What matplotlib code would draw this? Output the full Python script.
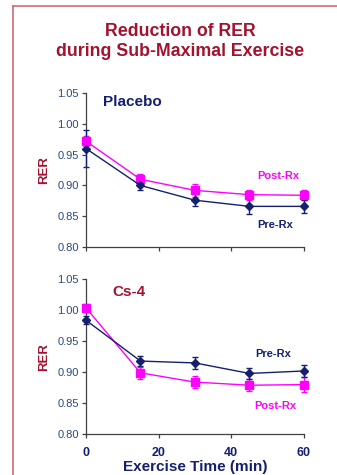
import matplotlib
matplotlib.use("Agg")
import matplotlib.pyplot as plt
from matplotlib.lines import Line2D

plt.rcParams["font.family"] = ["Liberation Sans", "DejaVu Sans"]

# exercise time points (min)
time_min = [0, 15, 30, 45, 60]

# Placebo group
placebo_pre = [0.960, 0.900, 0.876, 0.866, 0.866]
placebo_pre_err = [0.030, 0.008, 0.010, 0.013, 0.010]
placebo_post = [0.972, 0.910, 0.892, 0.885, 0.884]
placebo_post_err = [0.008, 0.008, 0.010, 0.008, 0.008]

# Cs-4 group
cs4_pre = [0.984, 0.918, 0.915, 0.898, 0.902]
cs4_pre_err = [0.006, 0.008, 0.010, 0.009, 0.010]
cs4_post = [1.004, 0.899, 0.884, 0.879, 0.880]
cs4_post_err = [0.006, 0.010, 0.010, 0.010, 0.012]

y_ticks = [0.80, 0.85, 0.90, 0.95, 1.00, 1.05]
x_ticks = [0, 20, 40, 60]

RED = "#A3122E"
NAVY = "#14206E"
MAGENTA = "#FF00FF"
TICK = "#2B4A7A"
AXIS = "#404040"


def style_axes(ax, show_xlabels):
    ax.set_xlim(0, 60)
    ax.set_ylim(0.80, 1.05)
    ax.set_yticks(y_ticks)
    ax.set_yticklabels([f"{v:.2f}" for v in y_ticks], color=TICK, fontsize=8)
    ax.set_xticks(x_ticks)
    if show_xlabels:
        ax.set_xticklabels([str(v) for v in x_ticks], color=NAVY, fontsize=9, fontweight="bold")
    else:
        ax.set_xticklabels([])
    for side in ("top", "right"):
        ax.spines[side].set_visible(False)
    for side in ("left", "bottom"):
        ax.spines[side].set_color(AXIS)
        ax.spines[side].set_linewidth(0.9)
    ax.tick_params(direction="out", length=3, width=0.9, color=AXIS, pad=2)
    ax.tick_params(axis="x", pad=6)
    ax.set_ylabel("RER", color=RED, fontsize=9.5, fontweight="bold", labelpad=5)


def draw_series(ax, y, err, color, marker, ms):
    ax.errorbar(time_min, y, yerr=err, color=color, marker=marker, markersize=ms,
                linewidth=1.0, elinewidth=1.0, capsize=2.5, capthick=1.0,
                clip_on=False, zorder=3)


fig = plt.figure(figsize=(3.37, 4.75), dpi=100)

fig.text(0.535, 0.934, "Reduction of RER", ha="center", va="center",
         color=RED, fontsize=12.8, fontweight="bold")
fig.text(0.535, 0.891, "during Sub-Maximal Exercise", ha="center", va="center",
         color=RED, fontsize=12.8, fontweight="bold")

ax1 = fig.add_axes([0.255, 0.480, 0.647, 0.324])
draw_series(ax1, placebo_post, placebo_post_err, MAGENTA, "s", 5.5)
draw_series(ax1, placebo_pre, placebo_pre_err, NAVY, "D", 4.5)
style_axes(ax1, False)
ax1.text(4.7, 1.035, "Placebo", color=NAVY, fontsize=11, fontweight="bold", va="center")
ax1.text(47.1, 0.915, "Post-Rx", color=MAGENTA, fontsize=8, fontweight="bold", va="center")
ax1.text(47.1, 0.836, "Pre-Rx", color=NAVY, fontsize=8, fontweight="bold", va="center")

ax2 = fig.add_axes([0.255, 0.086, 0.647, 0.326])
draw_series(ax2, cs4_post, cs4_post_err, MAGENTA, "s", 5.5)
draw_series(ax2, cs4_pre, cs4_pre_err, NAVY, "D", 4.5)
style_axes(ax2, True)
ax2.set_xlabel("Exercise Time (min)", color=NAVY, fontsize=11, fontweight="bold", labelpad=1)
ax2.text(7.4, 1.029, "Cs-4", color=RED, fontsize=11, fontweight="bold", va="center")
ax2.text(46.5, 0.930, "Pre-Rx", color=NAVY, fontsize=8, fontweight="bold", va="center")
ax2.text(46.2, 0.845, "Post-Rx", color=MAGENTA, fontsize=8, fontweight="bold", va="center")

# slide frame (left and top edges)
fig.add_artist(Line2D([13 / 337, 13 / 337], [0, 1 - 6 / 475], color="#D06878", linewidth=1.2))
fig.add_artist(Line2D([13 / 337, 1], [1 - 6 / 475, 1 - 6 / 475], color="#D06878", linewidth=1.2))

fig.savefig("out.png", dpi=100)
